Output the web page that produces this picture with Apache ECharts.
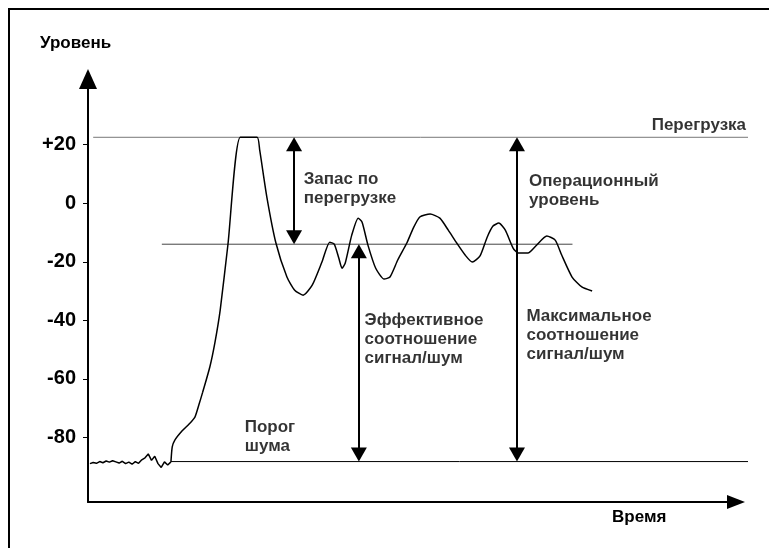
<!DOCTYPE html>
<html>
<head>
<meta charset="utf-8">
<script src="https://cdn.jsdelivr.net/npm/echarts@6/dist/echarts.min.js"></script>
<style>
  html, body { margin: 0; background: #fff; }
  #main { width: 769px; height: 548px; }
</style>
</head>
<body>
<div id="main"></div>
<script>
// метки шкалы уровня
var levelTicks = [-80, -60, -40, -20, 0, 20];

// характерные уровни
var overloadLevel = 22.5;
var operationalLevel = -14;
var noiseFloorLevel = -88.2;

// протяжённость горизонтальных линий по времени
var overloadSpan = [0.8, 101.9];
var operationalSpan = [11.4, 74.8];
var noiseFloorSpan = [12.8, 101.9];

// шум до прихода сигнала
var noiseTime = [0.3, 0.8, 1.3, 1.8, 2.3, 2.8, 3.3, 3.8, 4.3, 4.8, 5.3, 5.8, 6.3, 6.8, 7.3, 7.8, 8.3, 8.8, 9.3, 9.8, 10.3, 10.8, 11.3, 11.8, 12.3, 12.8];
var noiseLevel = [-88.9, -88.5, -88.8, -88.2, -88.6, -88.0, -88.4, -87.9, -88.3, -88.7, -88.1, -88.9, -88.4, -89.1, -88.2, -88.8, -87.6, -86.9, -85.6, -87.8, -86.4, -88.9, -90.2, -88.3, -89.4, -88.3];

// сигнал
var signalTime = [12.8, 13.0, 13.4, 14.5, 15.6, 16.5, 17.1, 17.7, 18.8, 19.6, 20.4, 21.6, 23.5, 26.1, 26.5, 27.6, 29.0, 30.7, 31.9, 33.2, 34.6, 36.1, 37.3, 38.0, 38.7, 39.2, 39.7, 40.7, 41.7, 42.3, 43.2, 44.4, 45.7, 46.6, 47.8, 49.2, 50.2, 51.2, 52.8, 54.3, 55.6, 56.9, 58.2, 59.3, 60.5, 61.6, 62.5, 63.4, 64.4, 65.6, 66.4, 67.9, 69.1, 70.8, 72.1, 73.1, 74.7, 76.2, 77.8];
var signalLevel = [-88.3, -83.2, -80.9, -77.8, -75.4, -73.0, -68.9, -64.5, -55.9, -47.4, -36.5, -14.0, 22.5, 22.5, 18.1, 2.1, -13.6, -25.2, -29.7, -31.4, -28.0, -20.1, -13.3, -14.0, -18.7, -22.2, -20.4, -10.9, -5.1, -6.5, -14.3, -22.2, -25.9, -25.2, -19.4, -13.6, -8.5, -4.7, -3.7, -5.1, -9.2, -13.6, -17.7, -20.1, -18.0, -11.6, -7.8, -6.8, -9.2, -15.3, -17.0, -17.0, -14.6, -11.2, -12.6, -17.7, -25.2, -28.6, -30.0];

// двойные стрелки: время, верх, низ
var arrowTime = [31.8, 41.8, 66.2];
var arrowTop = [overloadLevel, operationalLevel, overloadLevel];
var arrowBottom = [operationalLevel, noiseFloorLevel, noiseFloorLevel];

// подписи
var noteTime = [33.3, 68.1, 42.7, 67.7, 24.2, 101.6];
var noteLevel = [5.0, 4.4, -46.6, -45.2, -79.8, 26.7];
var noteText = [
  'Запас по\nперегрузке',
  'Операционный\nуровень',
  'Эффективное\nсоотношение\nсигнал/шум',
  'Максимальное\nсоотношение\nсигнал/шум',
  'Порог\nшума',
  'Перегрузка'
];

var FONT = '"Liberation Sans", Arial, sans-serif';
var headHalf = 2.4; // половина высоты наконечника в единицах уровня
var yMin = -102, yMax = 42.4;

function zip(a, b) {
  return a.map(function (v, i) { return [v, b[i]]; });
}

var arrowLines = arrowTime.map(function (t, i) {
  return [
    { coord: [t, arrowTop[i] - headHalf] },
    { coord: [t, arrowBottom[i] + headHalf] }
  ];
});

var notes = noteTime.map(function (t, i) {
  var last = i === noteTime.length - 1;
  return {
    value: [t, noteLevel[i]],
    label: {
      formatter: noteText[i],
      position: last ? 'left' : 'right'
    }
  };
});

function hline(level, span, color) {
  return {
    type: 'line',
    xAxisIndex: 1,
    yAxisIndex: 1,
    data: [[span[0], level], [span[1], level]],
    symbol: 'none',
    silent: true,
    lineStyle: { color: color, width: 1 }
  };
}

var chart = echarts.init(document.getElementById('main'));
chart.setOption({
  animation: false,
  backgroundColor: '#fff',
  grid: [
    { left: 88, right: 33, top: 79, bottom: 46 },
    // та же шкала, но шире вправо — для линий уровней и подписей
    { left: 88, right: 21, top: 79, bottom: 46 }
  ],
  xAxis: [
    {
      type: 'value',
      min: 0,
      max: 100,
      axisLine: {
        onZero: false,
        lineStyle: { color: '#000', width: 2 },
        symbol: ['none', 'triangle'],
        symbolSize: [14, 18]
      },
      axisTick: { show: false },
      axisLabel: { show: false },
      splitLine: { show: false }
    },
    {
      type: 'value',
      gridIndex: 1,
      min: 0,
      max: 101.9,
      show: false
    }
  ],
  yAxis: [
    {
      type: 'value',
      min: yMin,
      max: yMax,
      axisLine: {
        show: true,
        onZero: false,
        lineStyle: { color: '#000', width: 2 },
        symbol: ['none', 'triangle'],
        symbolSize: [18, 20]
      },
      axisTick: {
        show: true,
        length: 5,
        customValues: levelTicks,
        lineStyle: { color: '#000', width: 1 }
      },
      axisLabel: {
        customValues: levelTicks,
        margin: 12,
        color: '#000',
        fontSize: 20,
        fontWeight: 'bold',
        fontFamily: FONT,
        formatter: function (v) { return v > 0 ? '+' + v : String(v); }
      },
      splitLine: { show: false }
    },
    {
      type: 'value',
      gridIndex: 1,
      min: yMin,
      max: yMax,
      show: false
    }
  ],
  graphic: [
    { type: 'line', shape: { x1: 8, y1: 9, x2: 769, y2: 9 }, style: { stroke: '#000', lineWidth: 2 } },
    { type: 'line', shape: { x1: 9, y1: 8, x2: 9, y2: 548 }, style: { stroke: '#000', lineWidth: 2 } },
    { type: 'text', left: 40, top: 35, style: { text: 'Уровень', fill: '#000', font: 'bold 17px ' + FONT } },
    { type: 'text', left: 612, top: 509, style: { text: 'Время', fill: '#000', font: 'bold 17px ' + FONT } }
  ],
  series: [
    hline(overloadLevel, overloadSpan, '#777'),
    hline(operationalLevel, operationalSpan, '#444'),
    hline(noiseFloorLevel, noiseFloorSpan, '#000'),
    {
      name: 'noise',
      type: 'line',
      data: zip(noiseTime, noiseLevel),
      symbol: 'none',
      lineStyle: { color: '#000', width: 1.5 }
    },
    {
      name: 'signal',
      type: 'line',
      data: zip(signalTime, signalLevel),
      symbol: 'none',
      smooth: 0.2,
      lineStyle: { color: '#000', width: 1.5 },
      markLine: {
        silent: true,
        animation: false,
        symbol: ['triangle', 'triangle'],
        symbolSize: [16, 14],
        label: { show: false },
        lineStyle: { type: 'solid', color: '#000', width: 2 },
        data: arrowLines
      }
    },
    {
      name: 'notes',
      type: 'scatter',
      xAxisIndex: 1,
      yAxisIndex: 1,
      data: notes,
      symbolSize: 0,
      clip: false,
      silent: true,
      label: {
        show: true,
        distance: 0,
        color: '#000',
        fontSize: 17,
        fontWeight: 'bold',
        fontFamily: FONT,
        lineHeight: 19
      }
    }
  ]
});
</script>
</body>
</html>
